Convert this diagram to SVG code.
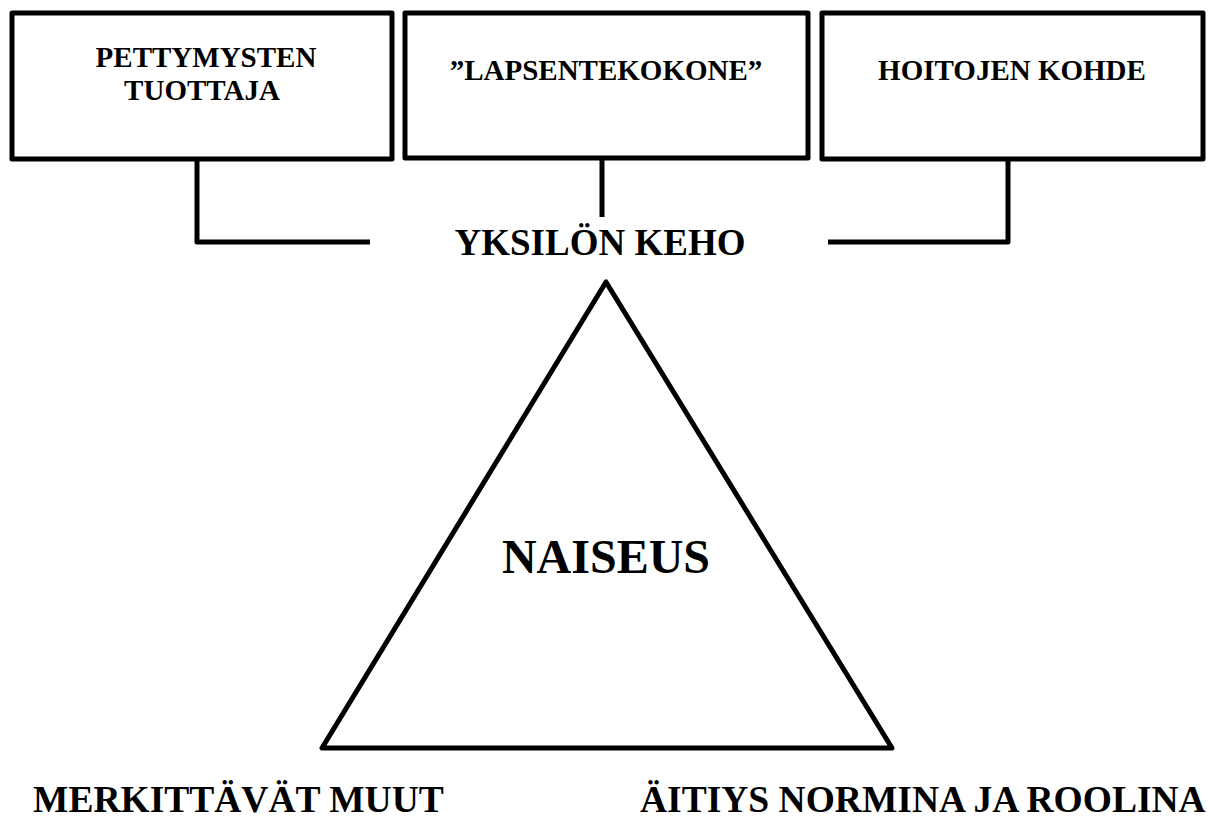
<svg xmlns="http://www.w3.org/2000/svg" width="1214" height="820" viewBox="0 0 1214 820">
<style>
.box{fill:#fff;stroke:#000;stroke-width:5;stroke-linejoin:round}
.ln{fill:none;stroke:#000;stroke-width:5;stroke-linejoin:round}
text{font-family:"Liberation Serif","Times New Roman",serif;font-weight:bold;fill:#000}
.s{font-size:29px;text-anchor:middle}
.b{font-size:37.5px}
</style>
<rect width="1214" height="820" fill="#fff"/>
<g id="connectors">
<polyline class="ln" points="197,160 197,242 370,242"/>
<line class="ln" x1="602" y1="158" x2="602" y2="217"/>
<polyline class="ln" points="1008,160 1008,242 828,242"/>
</g>
<g id="box1">
<rect class="box" x="12" y="13" width="380" height="146"/>
<text class="s" x="206" y="67">PETTYMYSTEN</text>
<text class="s" x="202" y="100">TUOTTAJA</text>
</g>
<g id="box2">
<rect class="box" x="405" y="13" width="403" height="145"/>
<text class="s" x="606" y="80">”LAPSENTEKOKONE”</text>
</g>
<g id="box3">
<rect class="box" x="822" y="13" width="381" height="146"/>
<text class="s" x="1012" y="80">HOITOJEN KOHDE</text>
</g>
<g id="yksilon-keho">
<text x="600" y="255" font-size="37" text-anchor="middle">YKSILÖN KEHO</text>
</g>
<g id="naiseus">
<polygon class="ln" points="606,282 322,748 892,748"/>
<text x="606" y="573" font-size="48" text-anchor="middle">NAISEUS</text>
</g>
<g id="merkittavat">
<text class="b" x="33" y="812">MERKITTÄVÄT MUUT</text>
</g>
<g id="aitiys">
<text class="b" x="640" y="812">ÄITIYS NORMINA JA ROOLINA</text>
</g>
</svg>
